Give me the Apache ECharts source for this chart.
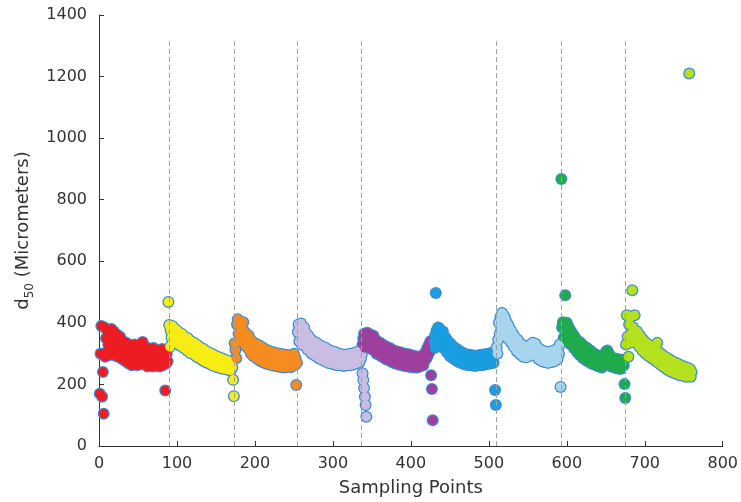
<!DOCTYPE html>
<html>
<head>
<meta charset="utf-8">
<script src="https://cdn.jsdelivr.net/npm/echarts@6/dist/echarts.min.js"></script>
<style>html,body{margin:0;padding:0;background:#fff}#c{width:741px;height:502px}</style>
</head>
<body>
<div id="c"></div>
<script>
// Sampling-point index where each run starts
const runStart = [1, 89, 174, 255, 338, 429, 510, 593, 676];
const runColors = ['#ee1d23', '#f7ec13', '#f68b1f', '#c9bde3', '#9e3f9e', '#1a9ee2', '#a8d5ee', '#1faa4b', '#b5e01e'];
// d50 values (micrometers) per run, one per sampling point
const run1 = [170,300,390,160,240,105,385,290,350,305,372,330,295,365,318,380,300,352,372,310,340,292,362,318,345,288,355,305,330,282,340,300,325,275,335,292,318,268,330,285,312,262,325,295,270,330,288,310,262,322,280,305,265,325,290,338,300,268,322,282,305,258,318,275,300,262,312,285,258,318,272,298,260,312,280,265,305,258,295,272,315,262,290,305,180,268,300,275];
const run2 = [468,393,322,375,352,390,340,382,360,335,378,348,372,330,362,340,325,365,332,350,318,355,325,342,310,350,318,335,302,340,312,328,298,335,305,318,290,328,298,312,285,320,292,305,278,315,288,298,272,308,282,295,268,302,275,288,262,298,270,282,258,292,266,280,255,288,262,275,252,284,258,272,250,280,256,268,248,276,252,265,246,272,255,215,162];
const run3 = [334,312,285,395,412,365,400,350,390,340,378,402,335,370,325,362,338,318,358,312,345,300,340,315,292,335,305,328,285,330,298,318,278,325,292,310,272,318,285,305,268,312,280,300,265,308,278,295,262,305,275,292,260,302,272,290,258,300,270,288,256,298,268,285,255,296,266,282,258,295,268,280,256,292,265,278,300,262,285,198,270];
const run4 = [370,395,340,385,398,330,375,352,385,328,368,340,315,360,330,352,305,345,322,298,340,310,332,292,335,305,322,285,328,298,315,280,322,292,308,275,318,288,302,270,312,282,298,268,308,278,295,265,305,275,290,262,300,272,288,262,298,270,285,260,296,270,284,262,298,272,286,262,300,275,290,265,302,278,292,268,305,280,295,272,308,285,298,236,214,188,160,133,95];
const run5 = [330,350,365,318,358,340,368,322,355,335,362,315,350,330,358,310,345,322,300,340,312,332,295,335,305,325,288,328,298,318,282,322,292,310,278,318,288,305,272,312,282,300,268,308,278,296,265,305,275,292,262,302,272,288,260,300,270,285,258,298,268,282,256,295,266,280,255,292,264,278,255,290,265,280,258,292,270,285,262,298,278,305,285,318,295,328,305,340,230,185,84];
const run6 = [340,318,358,497,375,335,385,352,380,328,368,342,372,318,355,330,350,305,342,318,335,292,332,305,320,285,322,296,310,278,315,288,302,272,308,282,296,268,302,278,290,265,298,275,288,262,296,272,285,262,295,270,284,260,293,270,282,262,295,272,285,262,296,272,286,264,298,275,288,266,300,278,290,268,302,280,292,270,296,182,133];
const run7 = [320,300,345,400,365,420,378,432,395,425,360,415,380,400,350,392,362,380,338,372,345,362,322,355,330,345,308,345,318,335,298,332,305,322,290,325,298,315,288,322,295,315,292,328,300,322,335,298,325,305,332,292,320,298,282,315,288,305,275,310,282,298,272,306,280,295,270,305,280,295,272,308,285,298,275,312,290,305,282,318,298,330,192];
const run8 = [867,385,402,352,395,490,365,400,338,388,355,378,330,370,342,362,318,355,328,345,305,342,315,332,295,335,305,322,285,325,295,312,278,318,288,302,272,310,282,295,266,302,276,288,262,296,270,282,258,292,266,278,255,288,262,296,272,305,280,310,268,300,276,290,258,286,265,278,255,284,262,275,252,282,260,272,250,280,258,270,262,201,156];
const run9 = [330,425,355,290,395,335,420,365,506,385,345,425,368,335,372,342,362,322,358,330,348,310,345,318,335,300,335,308,325,292,328,300,316,285,320,292,308,278,312,286,335,270,305,278,292,262,298,270,285,255,290,262,278,248,284,256,270,242,278,250,265,238,272,245,260,234,268,240,255,230,262,236,250,228,258,232,248,225,255,230,245,1210,250,225,240];
const runs = [run1, run2, run3, run4, run5, run6, run7, run8, run9];
// Run separators (dashed vertical lines): x position, top and bottom value
const sepX = [90, 174, 254.5, 337, 427.5, 509.5, 592.5, 674.5];
const sepTop = [1315, 1315, 1315, 1315, 1250, 1315, 1315, 1315];
const sepBottom = [0, 0, 0, 0, -50, 0, 0, 0];
const xTicks = [0, 100, 200, 300, 400, 500, 600, 700, 800];
const yTicks = [0, 200, 400, 600, 800, 1000, 1200, 1400];

const font = 'DejaVu Sans';
const series = [];
runs.forEach((vals, k) => {
  const pts = vals.map((v, i) => [runStart[k] + i, v]);
  series.push({
    type: 'scatter', data: pts, symbol: 'circle', symbolSize: 12, z: 2,
    itemStyle: { color: '#3d8bd2', opacity: 1 }, silent: true, animation: false
  });
  series.push({
    type: 'scatter', data: pts, symbol: 'circle', symbolSize: 9.5, z: 3,
    itemStyle: { color: runColors[k], opacity: 1 }, silent: true, animation: false
  });
});
series.push({
  type: 'scatter', data: [], z: 1, silent: true, clip: false,
  markLine: {
    silent: true, symbol: ['none', 'none'], animation: false,
    label: { show: false },
    lineStyle: { color: '#a0a0a0', width: 1, type: [5, 3] },
    data: sepX.map((x, i) => [{ coord: [x, sepBottom[i]] }, { coord: [x, sepTop[i]] }])
  }
});

const chart = echarts.init(document.getElementById('c'), null, { renderer: 'canvas' });
chart.setOption({
  animation: false,
  backgroundColor: '#fff',
  grid: { left: 99, right: 15, top: 15, bottom: 56 },
  xAxis: {
    type: 'value', min: xTicks[0], max: xTicks[xTicks.length - 1], interval: 100,
    axisLine: { lineStyle: { color: '#333', width: 1 } },
    axisTick: { inside: true, length: 5, lineStyle: { color: '#333' } },
    axisLabel: { fontSize: 16, color: '#333', margin: 10, fontFamily: font, formatter: v => String(v) },
    splitLine: { show: false },
    name: 'Sampling Points', nameLocation: 'middle', nameGap: 33,
    nameTextStyle: { fontSize: 18, color: '#333', fontFamily: font }
  },
  yAxis: {
    type: 'value', min: yTicks[0], max: yTicks[yTicks.length - 1], interval: 200,
    axisLine: { show: true, lineStyle: { color: '#333', width: 1 } },
    axisTick: { show: true, inside: true, length: 5, lineStyle: { color: '#333' } },
    axisLabel: { fontSize: 16, color: '#333', margin: 12, fontFamily: font, formatter: v => String(v) },
    splitLine: { show: false },
    name: 'd{s|50} (Micrometers)', nameLocation: 'middle', nameGap: 56,
    nameTextStyle: {
      fontSize: 18, color: '#333', fontFamily: font,
      rich: { s: { fontSize: 12, color: '#333', fontFamily: font, padding: [12, 0, 0, 0] } }
    }
  },
  series: series
});
</script>
</body>
</html>
